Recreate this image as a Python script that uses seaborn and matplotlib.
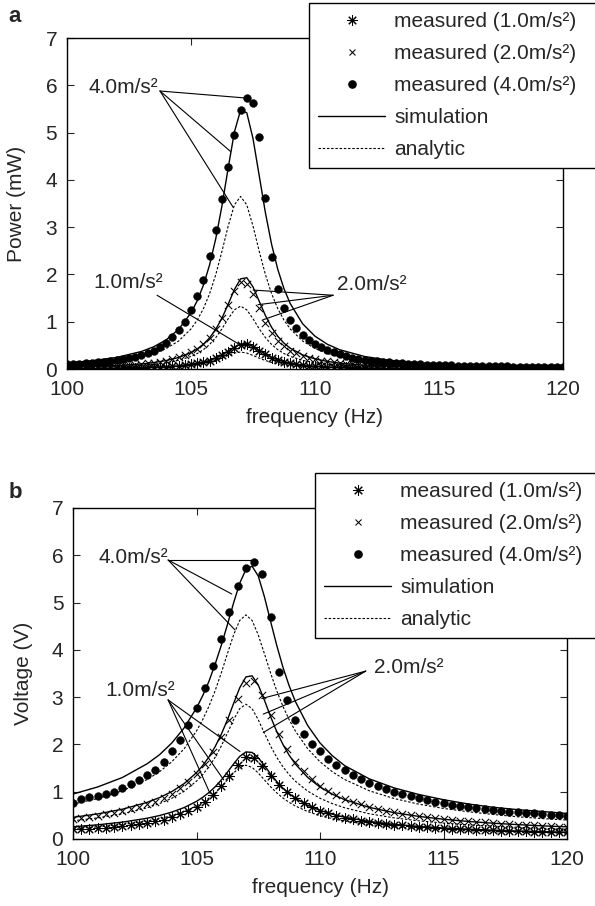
import numpy as np
import pandas as pd
import matplotlib
matplotlib.use("Agg")
import matplotlib.pyplot as plt
import seaborn as sns
from matplotlib.lines import Line2D

sns.set_style("ticks")
plt.rcParams['font.family'] = ['Liberation Sans', 'DejaVu Sans']
plt.rcParams['font.size'] = 15

# ---- data -------------------------------------------------------------
# sweep frequencies of the measurements (Hz)
freq_meas_a = np.linspace(100, 120, 81)   # power sweep, 0.25 Hz steps
freq_meas_b = np.linspace(100, 120, 61)   # voltage sweep, 1/3 Hz steps

# frequencies the simulation / analytic curves are read at
freq_curve = [100, 101, 102, 103, 103.5, 104, 104.5, 105, 105.25, 105.5, 105.75,
              106, 106.25, 106.5, 106.75, 107, 107.25, 107.5, 107.75, 108, 108.25,
              108.5, 108.75, 109, 109.5, 110, 110.5, 111, 112, 113, 114, 115, 116,
              117, 118, 119, 120]

# (a) power, mW
power_meas_1 = [0.012, 0.013, 0.014, 0.015, 0.016, 0.017, 0.018, 0.020, 0.022, 0.024,
                0.026, 0.029, 0.032, 0.036, 0.040, 0.046, 0.053, 0.061, 0.071, 0.084,
                0.10, 0.12, 0.145, 0.18, 0.23, 0.29, 0.37, 0.45, 0.51, 0.52,
                0.47, 0.39, 0.31, 0.24, 0.19, 0.15, 0.12, 0.10, 0.085, 0.072,
                0.062, 0.054, 0.047, 0.042, 0.037, 0.033, 0.030, 0.027, 0.025, 0.023,
                0.021, 0.019, 0.018, 0.017, 0.016, 0.015, 0.014, 0.013, 0.012, 0.012,
                0.011, 0.011, 0.010, 0.010, 0.009, 0.009, 0.009, 0.008, 0.008, 0.008,
                0.007, 0.007, 0.007, 0.007, 0.006, 0.006, 0.006, 0.006, 0.006, 0.005, 0.005]
power_meas_2 = [0.04, 0.04, 0.045, 0.05, 0.05, 0.055, 0.06, 0.065, 0.07, 0.075,
                0.085, 0.095, 0.105, 0.12, 0.135, 0.155, 0.18, 0.21, 0.245, 0.29,
                0.35, 0.42, 0.52, 0.66, 0.84, 1.07, 1.36, 1.66, 1.85, 1.80,
                1.58, 1.30, 0.98, 0.76, 0.60, 0.48, 0.39, 0.33, 0.28, 0.24,
                0.205, 0.18, 0.16, 0.14, 0.125, 0.11, 0.10, 0.09, 0.08, 0.074,
                0.068, 0.062, 0.057, 0.053, 0.049, 0.046, 0.043, 0.040, 0.038, 0.036,
                0.034, 0.032, 0.030, 0.029, 0.027, 0.026, 0.025, 0.024, 0.023, 0.022,
                0.021, 0.020, 0.019, 0.018, 0.018, 0.017, 0.016, 0.016, 0.015, 0.015, 0.014]
power_meas_4 = [0.10, 0.11, 0.11, 0.12, 0.13, 0.14, 0.15, 0.17, 0.19, 0.21,
                0.23, 0.26, 0.30, 0.34, 0.39, 0.47, 0.56, 0.68, 0.82, 1.00,
                1.24, 1.55, 1.89, 2.39, 2.94, 3.59, 4.28, 4.95, 5.47, 5.73,
                5.62, 4.91, 3.62, 2.36, 1.69, 1.30, 1.03, 0.87, 0.72, 0.61,
                0.53, 0.46, 0.40, 0.35, 0.31, 0.27, 0.24, 0.22, 0.20, 0.18,
                0.165, 0.15, 0.14, 0.13, 0.12, 0.11, 0.105, 0.10, 0.095, 0.09,
                0.085, 0.08, 0.077, 0.074, 0.071, 0.068, 0.065, 0.062, 0.06, 0.058,
                0.056, 0.054, 0.052, 0.05, 0.048, 0.047, 0.045, 0.044, 0.043, 0.042, 0.041]

power_sim_1 = [0.010, 0.014, 0.020, 0.030, 0.038, 0.050, 0.067, 0.096, 0.117, 0.145, 0.183,
               0.233, 0.298, 0.380, 0.466, 0.528, 0.535, 0.481, 0.397, 0.314, 0.244,
               0.191, 0.152, 0.122, 0.083, 0.059, 0.044, 0.034, 0.022, 0.015, 0.011,
               0.009, 0.007, 0.006, 0.004, 0.004, 0.003]
power_sim_2 = [0.037, 0.050, 0.071, 0.107, 0.136, 0.179, 0.243, 0.347, 0.423, 0.524, 0.659,
               0.840, 1.077, 1.371, 1.681, 1.907, 1.931, 1.737, 1.434, 1.132, 0.882,
               0.691, 0.548, 0.441, 0.299, 0.214, 0.160, 0.123, 0.080, 0.055, 0.041,
               0.031, 0.025, 0.020, 0.016, 0.014, 0.012]
power_sim_4 = [0.129, 0.174, 0.245, 0.371, 0.471, 0.617, 0.838, 1.188, 1.442, 1.772, 2.203,
               2.760, 3.456, 4.254, 5.013, 5.475, 5.419, 4.876, 4.092, 3.307, 2.637,
               2.107, 1.698, 1.386, 0.958, 0.694, 0.523, 0.407, 0.265, 0.185, 0.137,
               0.105, 0.083, 0.067, 0.056, 0.047, 0.040]
power_ana_1 = [0.007, 0.010, 0.014, 0.021, 0.027, 0.036, 0.049, 0.072, 0.088, 0.110, 0.140,
               0.180, 0.230, 0.287, 0.338, 0.359, 0.338, 0.287, 0.230, 0.180, 0.140,
               0.110, 0.088, 0.072, 0.049, 0.036, 0.027, 0.021, 0.014, 0.010, 0.007,
               0.006, 0.004, 0.004, 0.003, 0.003, 0.002]
power_ana_2 = [0.027, 0.036, 0.051, 0.078, 0.100, 0.133, 0.183, 0.266, 0.327, 0.409, 0.519,
               0.665, 0.851, 1.064, 1.252, 1.330, 1.252, 1.064, 0.851, 0.665, 0.519,
               0.409, 0.327, 0.266, 0.183, 0.133, 0.100, 0.078, 0.051, 0.036, 0.027,
               0.021, 0.016, 0.013, 0.011, 0.009, 0.008]
power_ana_4 = [0.088, 0.119, 0.169, 0.257, 0.328, 0.433, 0.592, 0.848, 1.034, 1.276, 1.593,
               1.999, 2.492, 3.025, 3.471, 3.650, 3.471, 3.025, 2.492, 1.999, 1.593,
               1.276, 1.034, 0.848, 0.592, 0.433, 0.328, 0.257, 0.169, 0.119, 0.088,
               0.068, 0.054, 0.044, 0.036, 0.030, 0.026]

# (b) voltage, V
volt_meas_1 = [0.20, 0.21, 0.22, 0.23, 0.24, 0.25, 0.27, 0.29, 0.31, 0.34,
               0.37, 0.41, 0.46, 0.52, 0.59, 0.68, 0.79, 0.93, 1.11, 1.33,
               1.57, 1.74, 1.72, 1.55, 1.34, 1.15, 0.99, 0.86, 0.76, 0.67,
               0.60, 0.54, 0.49, 0.45, 0.42, 0.39, 0.36, 0.34, 0.32, 0.30,
               0.285, 0.27, 0.26, 0.25, 0.24, 0.23, 0.22, 0.21, 0.20, 0.195,
               0.19, 0.18, 0.175, 0.17, 0.165, 0.16, 0.155, 0.15, 0.145, 0.14, 0.14]
volt_meas_2 = [0.42, 0.44, 0.46, 0.49, 0.52, 0.55, 0.59, 0.63, 0.68, 0.73,
               0.79, 0.87, 0.96, 1.07, 1.21, 1.38, 1.58, 1.84, 2.15, 2.52,
               2.95, 3.30, 3.35, 3.05, 2.62, 2.22, 1.90, 1.63, 1.43, 1.27,
               1.13, 1.02, 0.93, 0.85, 0.79, 0.73, 0.68, 0.64, 0.60, 0.56,
               0.53, 0.51, 0.48, 0.46, 0.44, 0.42, 0.40, 0.39, 0.37, 0.36,
               0.35, 0.34, 0.32, 0.31, 0.30, 0.29, 0.29, 0.28, 0.27, 0.26, 0.26]
volt_meas_4 = [0.77, 0.84, 0.88, 0.91, 0.96, 1.00, 1.07, 1.16, 1.24, 1.35,
               1.45, 1.63, 1.85, 2.09, 2.40, 2.77, 3.19, 3.66, 4.23, 4.80,
               5.35, 5.74, 5.86, 5.60, 4.69, 3.54, 2.94, 2.52, 2.23, 2.00,
               1.85, 1.70, 1.57, 1.45, 1.35, 1.26, 1.18, 1.12, 1.06, 1.00,
               0.95, 0.90, 0.86, 0.82, 0.78, 0.75, 0.72, 0.70, 0.67, 0.65,
               0.63, 0.61, 0.60, 0.58, 0.56, 0.55, 0.54, 0.52, 0.51, 0.50, 0.49]

volt_sim_1 = [0.258, 0.299, 0.356, 0.438, 0.495, 0.568, 0.664, 0.795, 0.880, 0.980, 1.101,
              1.244, 1.410, 1.586, 1.746, 1.841, 1.830, 1.718, 1.551, 1.375, 1.214,
              1.075, 0.959, 0.862, 0.712, 0.603, 0.522, 0.460, 0.370, 0.309, 0.265,
              0.232, 0.207, 0.186, 0.169, 0.155, 0.143]
volt_sim_2 = [0.457, 0.530, 0.629, 0.774, 0.874, 1.002, 1.171, 1.402, 1.552, 1.731, 1.948,
              2.210, 2.519, 2.864, 3.198, 3.427, 3.451, 3.256, 2.934, 2.586, 2.268,
              1.997, 1.771, 1.585, 1.301, 1.097, 0.947, 0.831, 0.667, 0.556, 0.477,
              0.417, 0.370, 0.333, 0.303, 0.277, 0.256]
volt_sim_4 = [0.95, 1.10, 1.30, 1.59, 1.78, 2.03, 2.35, 2.77, 3.03, 3.33, 3.69,
              4.09, 4.53, 4.99, 5.41, 5.70, 5.77, 5.56, 5.12, 4.60, 4.09,
              3.63, 3.24, 2.91, 2.40, 2.03, 1.76, 1.55, 1.27, 1.08, 0.94,
              0.83, 0.74, 0.67, 0.62, 0.58, 0.54]
volt_ana_1 = [0.221, 0.256, 0.306, 0.378, 0.429, 0.493, 0.579, 0.698, 0.774, 0.865, 0.974,
              1.103, 1.248, 1.395, 1.513, 1.560, 1.513, 1.395, 1.248, 1.103, 0.974,
              0.865, 0.774, 0.698, 0.579, 0.493, 0.429, 0.378, 0.306, 0.256, 0.221,
              0.193, 0.172, 0.155, 0.141, 0.130, 0.120]
volt_ana_2 = [0.383, 0.446, 0.532, 0.659, 0.747, 0.860, 1.012, 1.223, 1.360, 1.525, 1.724,
              1.963, 2.237, 2.522, 2.756, 2.850, 2.756, 2.522, 2.237, 1.963, 1.724,
              1.525, 1.360, 1.223, 1.012, 0.860, 0.747, 0.659, 0.532, 0.446, 0.383,
              0.336, 0.299, 0.270, 0.245, 0.225, 0.208]
volt_ana_4 = [0.736, 0.855, 1.018, 1.257, 1.421, 1.632, 1.909, 2.284, 2.523, 2.803, 3.131,
              3.508, 3.917, 4.315, 4.622, 4.740, 4.622, 4.315, 3.917, 3.508, 3.131,
              2.803, 2.523, 2.284, 1.909, 1.632, 1.421, 1.257, 1.018, 0.855, 0.736,
              0.646, 0.575, 0.518, 0.469, 0.431, 0.400]

legend_labels = ["measured (1.0m/s²)", "measured (2.0m/s²)", "measured (4.0m/s²)",
                 "simulation", "analytic"]

# callouts: label, text anchor, where the leader lines start, where they end
callouts_a = [
    ("4.0m/s²", (103.67, 5.96), "right", (103.75, 5.88),
     [(107.25, 5.73), (106.6, 4.6), (106.7, 3.42)]),
    ("1.0m/s²", (103.87, 1.82), "right", (103.63, 1.56), [(106.95, 0.52)]),
    ("2.0m/s²", (110.9, 1.78), "left", (110.73, 1.56),
     [(107.5, 1.67), (107.7, 1.36), (107.9, 1.04)]),
]
callouts_b = [
    ("4.0m/s²", (103.85, 5.96), "right", (103.85, 5.90),
     [(107.44, 5.90), (106.43, 5.18), (106.56, 4.42)]),
    ("1.0m/s²", (104.13, 3.15), "right", (103.85, 2.94),
     [(106.76, 1.85), (105.55, 0.96), (106.1, 1.25)]),
    ("2.0m/s²", (112.2, 3.62), "left", (111.85, 3.55),
     [(107.64, 2.97), (107.7, 2.64), (107.7, 2.25)]),
]

STAR = (8, 2, 0)
DASH = (0, (2.2, 1.6))


def draw_panel(ax, f_meas, meas, sims, anas, callouts, ylabel, ylab_x):
    for y in sims:
        sns.lineplot(x=freq_curve, y=y, ax=ax, color="k", lw=1.0, zorder=2)
    for y in anas:
        sns.lineplot(x=freq_curve, y=y, ax=ax, color="k", lw=0.8,
                     linestyle=DASH, zorder=2)
    m1, m2, m4 = meas
    sns.scatterplot(x=f_meas, y=m1, ax=ax, marker=STAR, s=48, color="k",
                    linewidth=0.75, zorder=3)
    sns.scatterplot(x=f_meas, y=m2, ax=ax, marker="x", s=28, color="k",
                    linewidth=0.75, zorder=3)
    sns.scatterplot(x=f_meas, y=m4, ax=ax, marker="o", s=32, color="k",
                    edgecolor="k", linewidth=0.3, zorder=3)

    for label, txt_xy, ha, start, ends in callouts:
        ax.text(txt_xy[0], txt_xy[1], label, ha=ha, va="center", fontsize=15)
        for e in ends:
            ax.plot([start[0], e[0]], [start[1], e[1]], color="k", lw=0.8, zorder=4)

    ax.set_xlim(100, 120)
    ax.set_ylim(0, 7)
    ax.set_xticks([100, 105, 110, 115, 120])
    ax.set_yticks(range(0, 8))
    ax.tick_params(direction="in", top=True, right=True, length=5, width=0.8,
                   labelsize=15)
    ax.tick_params(axis="x", pad=8)
    ax.tick_params(axis="y", pad=7)
    for sp in ax.spines.values():
        sp.set_visible(True)
        sp.set_linewidth(1.0)
        sp.set_color("k")
    ax.set_xlabel("frequency (Hz)", fontsize=15)
    ax.set_ylabel(ylabel, fontsize=15)
    ax.xaxis.set_label_coords(0.5, -0.118)
    ax.yaxis.set_label_coords(ylab_x, 0.5)


fig = plt.figure(figsize=(5.95, 9.06), dpi=100)
ax_a = fig.add_axes([0.1126, 0.5927, 0.8336, 0.3653])
ax_b = fig.add_axes([0.1227, 0.0740, 0.8303, 0.3653])

draw_panel(ax_a, freq_meas_a, (power_meas_1, power_meas_2, power_meas_4),
           (power_sim_1, power_sim_2, power_sim_4),
           (power_ana_1, power_ana_2, power_ana_4), callouts_a, "Power (mW)", -0.083)
draw_panel(ax_b, freq_meas_b, (volt_meas_1, volt_meas_2, volt_meas_4),
           (volt_sim_1, volt_sim_2, volt_sim_4),
           (volt_ana_1, volt_ana_2, volt_ana_4), callouts_b, "Voltage (V)", -0.081)

handles = [
    Line2D([], [], marker=STAR, ls="none", color="k", ms=7.5, mew=0.75),
    Line2D([], [], marker="x", ls="none", color="k", ms=5, mew=0.75),
    Line2D([], [], marker="o", ls="none", color="k", ms=5.2),
    Line2D([], [], color="k", lw=1.0),
    Line2D([], [], color="k", lw=0.8, linestyle=DASH),
]
# the legend frames run off the right edge of the figure, as in the original
for left_px, top_px in ((309, 3), (315, 473)):
    x0 = left_px / 595
    leg = fig.legend(handles, legend_labels, loc="upper left", mode="expand",
                     bbox_to_anchor=(x0, 0, 1.02 - x0, 1 - top_px / 906),
                     bbox_transform=fig.transFigure, fontsize=15, frameon=True,
                     fancybox=False, edgecolor="k", framealpha=1, handlelength=3.2,
                     handletextpad=0.45, labelspacing=0.62, borderpad=0.45,
                     borderaxespad=0)
    leg.get_frame().set_linewidth(1.0)

fig.text(15 / 595, 1 - 17 / 906, "a", fontsize=16, fontweight="bold", ha="center", va="center")
fig.text(15 / 595, 1 - 492 / 906, "b", fontsize=16, fontweight="bold", ha="center", va="center")

fig.savefig("out.png", dpi=100)
